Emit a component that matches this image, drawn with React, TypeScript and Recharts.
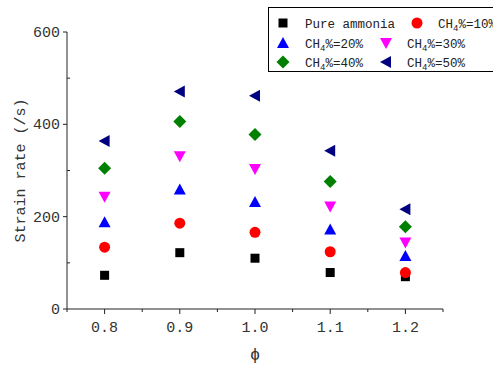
import { ScatterChart, Scatter, XAxis, YAxis, Label } from 'recharts'

// equivalence ratio
const phi = [0.8, 0.9, 1.0, 1.1, 1.2]

// strain rate (/s)
const pureAmmonia = [73, 122, 110, 79, 70]
const ch4_10 = [134, 186, 166, 124, 79]
const ch4_20 = [188, 259, 232, 172, 115]
const ch4_30 = [243, 331, 303, 222, 144]
const ch4_40 = [305, 406, 378, 276, 178]
const ch4_50 = [364, 471, 462, 343, 216]

const xTicks = [0.75, 0.8, 0.85, 0.9, 0.95, 1.0, 1.05, 1.1, 1.15, 1.2, 1.25]
const yTicks = [0, 100, 200, 300, 400, 500, 600]

const FONT = '"Liberation Mono", "DejaVu Sans Mono", monospace'
const AX = '#222'

type Kind = 'square' | 'circle' | 'up' | 'down' | 'diamond' | 'left'

const series: { key: string; label: string; sub?: string; tail?: string; values: number[]; color: string; kind: Kind }[] = [
  { key: 'p0', label: 'Pure ammonia', values: pureAmmonia, color: '#000000', kind: 'square' },
  { key: 'p10', label: 'CH', sub: '4', tail: '%=10%', values: ch4_10, color: '#ff0000', kind: 'circle' },
  { key: 'p20', label: 'CH', sub: '4', tail: '%=20%', values: ch4_20, color: '#0000ff', kind: 'up' },
  { key: 'p30', label: 'CH', sub: '4', tail: '%=30%', values: ch4_30, color: '#ff00ff', kind: 'down' },
  { key: 'p40', label: 'CH', sub: '4', tail: '%=40%', values: ch4_40, color: '#008000', kind: 'diamond' },
  { key: 'p50', label: 'CH', sub: '4', tail: '%=50%', values: ch4_50, color: '#000080', kind: 'left' },
]

// legend slot positions (marker x, text x, row y) inside the legend box
const legendSlots = [
  [15, 37, 16], [149, 170, 16],
  [15, 37, 36], [118, 139, 36],
  [15, 37, 55], [118, 139, 55],
]

function Marker({ kind, x, y, color }: { kind: Kind; x: number; y: number; color: string }) {
  switch (kind) {
    case 'square':
      return <rect x={x - 4.5} y={y - 4.5} width={9} height={9} fill={color} />
    case 'circle':
      return <circle cx={x} cy={y} r={5.5} fill={color} />
    case 'up':
      return <polygon points={`${x},${y - 6} ${x + 6},${y + 5} ${x - 6},${y + 5}`} fill={color} />
    case 'down':
      return <polygon points={`${x - 6},${y - 5} ${x + 6},${y - 5} ${x},${y + 6}`} fill={color} />
    case 'diamond':
      return <polygon points={`${x},${y - 6.5} ${x + 6.5},${y} ${x},${y + 6.5} ${x - 6.5},${y}`} fill={color} />
    default:
      return <polygon points={`${x - 6},${y} ${x + 5},${y - 6} ${x + 5},${y + 6}`} fill={color} />
  }
}

const XTick = (p: any) => {
  const v = p.payload.value as number
  const major = Math.round(v * 100) % 10 === 0
  return (
    <g>
      <line x1={p.x} x2={p.x} y1={p.y} y2={p.y + (major ? 5 : 3)} stroke={AX} />
      {major && (
        <text x={p.x} y={p.y + 23} textAnchor="middle" fontSize={15} fontFamily={FONT} fill="#333">
          {v.toFixed(1)}
        </text>
      )}
    </g>
  )
}

const YTick = (p: any) => {
  const v = p.payload.value as number
  const major = v % 200 === 0
  return (
    <g>
      <line x1={p.x} x2={major ? p.x - 4 : p.x + 3} y1={p.y} y2={p.y} stroke={AX} />
      {major && (
        <text x={p.x - 7} y={p.y + 5} textAnchor="end" fontSize={15} fontFamily={FONT} fill="#333">
          {v}
        </text>
      )}
    </g>
  )
}

export default function App() {
  return (
    <div style={{ position: 'absolute', left: 0, top: 0, width: 493, height: 365, background: '#fff' }}>
      <ScatterChart width={493} height={365} margin={{ top: 32, right: 50, bottom: 0, left: 0 }}>
        <XAxis
          type="number"
          dataKey="x"
          domain={[0.75, 1.25]}
          ticks={xTicks}
          interval={0}
          height={56}
          tickSize={0}
          tickMargin={0}
          tickLine={false}
          tick={XTick}
          axisLine={{ stroke: AX }}
          allowDataOverflow
        >
          <Label
            content={({ viewBox }: any) => (
              <text x={viewBox.x + viewBox.width / 2} y={360} textAnchor="middle" fontSize={17} fontFamily={FONT} fill="#333">
                ϕ
              </text>
            )}
          />
        </XAxis>
        <YAxis
          type="number"
          dataKey="y"
          domain={[0, 600]}
          ticks={yTicks}
          interval={0}
          width={67}
          tickSize={0}
          tickMargin={0}
          tickLine={false}
          tick={YTick}
          axisLine={{ stroke: AX }}
          allowDataOverflow
        >
          <Label
            content={({ viewBox }: any) => {
              const cx = viewBox.x + 21
              const cy = viewBox.y + viewBox.height / 2
              return (
                <text x={cx} y={cy} transform={`rotate(-90 ${cx} ${cy})`} textAnchor="middle" dominantBaseline="central" fontSize={15} fontFamily={FONT} fill="#333">
                  Strain rate (/s)
                </text>
              )
            }}
          />
        </YAxis>
        {series.map((s) => (
          <Scatter
            key={s.key}
            name={s.key}
            data={phi.map((x, i) => ({ x, y: s.values[i] }))}
            isAnimationActive={false}
            shape={(p: any) => <Marker kind={s.kind} x={p.cx} y={p.cy} color={s.color} />}
          />
        ))}
      </ScatterChart>
      <div style={{ position: 'absolute', left: 268, top: 7, width: 240, height: 65, border: '1px solid #000', boxSizing: 'border-box', background: '#fff' }}>
        <svg width={240} height={65} style={{ position: 'absolute', left: -1, top: -1 }}>
          {series.map((s, i) => {
            const [mx, tx, ry] = legendSlots[i]
            return (
              <g key={s.key}>
                <Marker kind={s.kind} x={mx} y={ry} color={s.color} />
                <text x={tx} y={ry + 5} fontSize={12.5} fontFamily={FONT} fill="#222">
                  {s.label}
                  {s.sub && <tspan fontSize={9} dy={3}>{s.sub}</tspan>}
                  {s.tail && <tspan dy={-3}>{s.tail}</tspan>}
                </text>
              </g>
            )
          })}
        </svg>
      </div>
    </div>
  )
}
